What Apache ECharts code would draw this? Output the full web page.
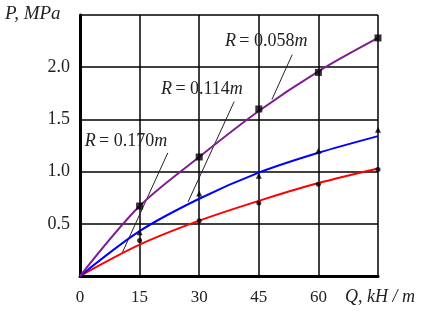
<!DOCTYPE html>
<html>
<head>
<meta charset="utf-8">
<script src="https://cdn.jsdelivr.net/npm/echarts@6/dist/echarts.min.js"></script>
<style>
  html, body { margin: 0; padding: 0; background: #fff; }
  #chart { width: 433px; height: 321px; }
</style>
</head>
<body>
<div id="chart"></div>
<script>
const qValues = [0, 15, 30, 45, 60, 75];
const qTicks = ['0', '15', '30', '45', '60', ''];
const pTicks = { 0.5: '0.5', 1: '1.0', 1.5: '1.5', 2: '2.0' };

// fitted curves (R = 0.058, 0.114, 0.170 m)
const curve058 = [0, 0.67, 1.14, 1.58, 1.96, 2.28];
const curve114 = [0, 0.43, 0.74, 0.99, 1.18, 1.34];
const curve170 = [0, 0.30, 0.53, 0.72, 0.89, 1.03];

// measured points
const pointQ = [15, 30, 45, 60, 75];
const points058 = [0.67, 1.14, 1.60, 1.95, 2.28];
const points114 = [0.42, 0.79, 0.96, 1.20, 1.40];
const points170 = [0.34, 0.53, 0.70, 0.88, 1.02];

// leader lines from labels to curves [q, p]
const leader058 = [[53.4, 2.12], [48.3, 1.69]];
const leader114 = [[38.8, 1.67], [27.2, 0.71]];
const leader170 = [[22.1, 1.18], [10.6, 0.22]];

const serif = 'Liberation Serif';
const pair = (xs, ys) => ys.map((y, i) => [xs[i], y]);

const chart = echarts.init(document.getElementById('chart'));

const curveSeries = (data, color) => ({
  type: 'line',
  data: pair(qValues, data),
  smooth: 0.3,
  showSymbol: false,
  lineStyle: { color, width: 2 },
  z: 3
});

const pointSeries = (data, symbol, size) => ({
  type: 'scatter',
  data: pair(pointQ, data),
  symbol,
  symbolSize: size,
  itemStyle: { color: '#000' },
  z: 4
});

const leaderSeries = (pts) => ({
  type: 'line',
  data: pts,
  showSymbol: false,
  lineStyle: { color: '#222', width: 1 },
  z: 2
});

chart.setOption({
  animation: false,
  grid: { left: 80, right: 55, top: 15, bottom: 45 },
  xAxis: {
    type: 'value',
    min: 0,
    max: 75,
    interval: 15,
    axisLine: { show: true, onZero: false, lineStyle: { color: '#000', width: 3 } },
    axisTick: { show: false },
    splitLine: { show: true, lineStyle: { color: '#000', width: 1.5 } },
    axisLabel: {
      margin: 13,
      fontFamily: serif,
      fontSize: 17,
      color: '#222',
      formatter: (v) => qTicks[qValues.indexOf(v)] ?? ''
    }
  },
  yAxis: {
    type: 'value',
    min: 0,
    max: 2.5,
    interval: 0.5,
    axisLine: { show: true, onZero: false, lineStyle: { color: '#000', width: 3 } },
    axisTick: { show: false },
    splitLine: { show: true, lineStyle: { color: '#000', width: 1.5 } },
    axisLabel: {
      margin: 10,
      fontFamily: serif,
      fontSize: 18,
      color: '#222',
      formatter: (v) => pTicks[v] || ''
    }
  },
  series: [
    curveSeries(curve170, '#ff0000'),
    curveSeries(curve114, '#0000ff'),
    curveSeries(curve058, '#7e1f8e'),
    pointSeries(points170, 'circle', 5),
    pointSeries(points114, 'triangle', 6),
    pointSeries(points058, 'rect', 7),
    leaderSeries(leader058),
    leaderSeries(leader114),
    leaderSeries(leader170)
  ]
});

const rLabel = (q, p, value) => {
  const [x, y] = chart.convertToPixel({ gridIndex: 0 }, [q, p]);
  return {
    type: 'text',
    x, y,
    style: {
      text: `{i|R} {n|= ${value}}{i|m}`,
      fill: '#222',
      verticalAlign: 'middle',
      rich: {
        i: { fontFamily: serif, fontStyle: 'italic', fontSize: 18, fill: '#222' },
        n: { fontFamily: serif, fontSize: 18, fill: '#222' }
      }
    },
    z: 10
  };
};

chart.setOption({
  graphic: [
    rLabel(36.5, 2.25, '0.058'),
    rLabel(20.4, 1.79, '0.114'),
    rLabel(1.2, 1.29, '0.170'),
    {
      type: 'text', left: 5, top: 4,
      style: { text: 'P, MPa', font: `italic 19px "${serif}"`, fill: '#222' }
    },
    {
      type: 'text', left: 345, top: 288,
      style: { text: 'Q, kH / m', font: `italic 18px "${serif}"`, fill: '#222' }
    }
  ]
});
</script>
</body>
</html>
